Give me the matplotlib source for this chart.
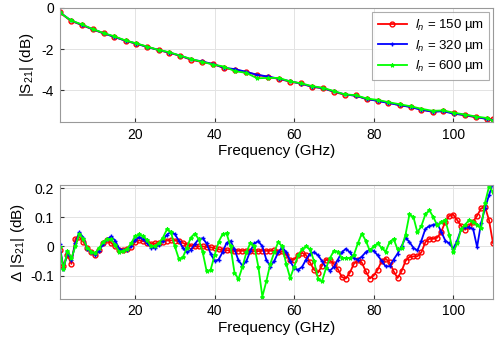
import matplotlib
matplotlib.use("Agg")
import matplotlib.pyplot as plt
from matplotlib.ticker import FuncFormatter

plt.rcParams['font.family'] = ['Liberation Sans', 'DejaVu Sans']
plt.rcParams['mathtext.fontset'] = 'custom'
plt.rcParams['mathtext.rm'] = 'Liberation Sans'
plt.rcParams['mathtext.it'] = 'Liberation Sans:italic'

# ---------------- data ----------------
freq_top = [1, 3.8, 6.6, 9.3, 12.1, 14.8, 17.6, 20.3, 23.1, 25.9, 28.6, 31.4, 34.1, 36.9,
            39.6, 42.4, 45.2, 47.9, 50.7, 53.4, 56.2, 58.9, 61.7, 64.5, 67.2, 70.0, 72.7,
            75.5, 78.2, 81.0, 83.7, 86.5, 89.3, 92.0, 94.8, 97.5, 100.3, 103.0, 105.8, 108.5, 110]
s21_150 = [-0.21, -0.62, -0.83, -1.04, -1.24, -1.40, -1.60, -1.74, -1.89, -2.05, -2.18, -2.33,
           -2.52, -2.63, -2.72, -2.93, -3.00, -3.12, -3.25, -3.35, -3.45, -3.58, -3.67, -3.84,
           -3.90, -4.08, -4.22, -4.25, -4.44, -4.50, -4.60, -4.73, -4.80, -4.94, -5.05, -5.00,
           -5.13, -5.22, -5.32, -5.38, -5.42]
s21_320 = [-0.20, -0.60, -0.82, -1.03, -1.23, -1.41, -1.59, -1.73, -1.90, -2.04, -2.17, -2.32,
           -2.50, -2.60, -2.73, -2.90, -2.98, -3.10, -3.25, -3.33, -3.44, -3.56, -3.68, -3.82,
           -3.90, -4.06, -4.20, -4.27, -4.42, -4.52, -4.62, -4.72, -4.82, -4.95, -5.04, -5.02,
           -5.15, -5.20, -5.30, -5.40, -5.45]
s21_600 = [-0.20, -0.60, -0.80, -1.02, -1.22, -1.38, -1.58, -1.72, -1.88, -2.04, -2.15, -2.32,
           -2.48, -2.62, -2.75, -2.85, -3.08, -3.15, -3.42, -3.40, -3.40, -3.57, -3.66, -3.80,
           -3.88, -4.04, -4.20, -4.24, -4.40, -4.47, -4.58, -4.68, -4.78, -4.90, -5.00, -4.98,
           -5.10, -5.18, -5.28, -5.35, -5.48]

freq_d = list(range(1, 111))
d_150 = [-0.011, -0.066, -0.03, -0.06, 0.026, 0.032, 0.015, -0.005, -0.018, -0.028,
         -0.012, 0.01, 0.021, 0.012, 0.0, -0.012, -0.013, -0.01, -0.002, 0.015,
         0.021, 0.018, 0.013, 0.009, 0.01, 0.013, 0.016, 0.02, 0.021, 0.02,
         0.018, 0.012, 0.006, 0.002, 0.0, 0.0, 0.0, -0.002, -0.003, -0.006,
         -0.01, -0.012, -0.013, -0.014, -0.015, -0.015, -0.015, -0.016, -0.016, -0.016,
         -0.016, -0.015, -0.015, -0.015, -0.014, -0.02, -0.016, -0.03, -0.046, -0.045,
         -0.03, -0.022, -0.03, -0.055, -0.08, -0.09, -0.066, -0.046, -0.048, -0.06,
         -0.078, -0.105, -0.11, -0.09, -0.06, -0.048, -0.055, -0.085, -0.11, -0.1,
         -0.08, -0.05, -0.042, -0.055, -0.085, -0.108, -0.085, -0.05, -0.036, -0.034,
         -0.034, -0.02, 0.015, 0.026, 0.026, 0.03, 0.05, 0.085, 0.105, 0.109,
         0.09, 0.07, 0.057, 0.07, 0.085, 0.105, 0.13, 0.135, 0.09, 0.011]
d_320 = [0.009, -0.077, -0.02, -0.048, 0.01, 0.048, 0.03, -0.008, -0.02, -0.028,
         -0.015, 0.008, 0.025, 0.034, 0.02, -0.008, -0.014, -0.012, 0.0, 0.022,
         0.032, 0.026, 0.012, -0.004, -0.006, 0.005, 0.02, 0.04, 0.05, 0.042,
         0.02, -0.005, -0.02, -0.012, 0.008, 0.025, 0.028, 0.01, -0.025, -0.05,
         -0.045, -0.02, 0.012, 0.018, -0.01, -0.048, -0.066, -0.05, -0.015, 0.01,
         0.018, 0.0, -0.045, -0.069, -0.05, -0.02, -0.003, -0.02, -0.05, -0.075,
         -0.08, -0.07, -0.045, -0.025, -0.02, -0.03, -0.05, -0.072, -0.083, -0.07,
         -0.045, -0.02, -0.008, -0.02, -0.04, -0.045, -0.035, -0.02, -0.011, -0.015,
         -0.03, -0.05, -0.068, -0.068, -0.045, -0.025, 0.0, 0.03, 0.015, -0.005,
         -0.014, 0.02, 0.06, 0.07, 0.074, 0.078, 0.05, 0.02, 0.01, -0.008,
         0.02, 0.06, 0.065, 0.065, 0.06, -0.002, 0.08, 0.13, 0.176, 0.216]
d_600 = [-0.002, -0.078, -0.015, -0.04, 0.0, 0.044, 0.025, -0.005, -0.018, -0.023,
         -0.005, 0.016, 0.024, 0.024, 0.005, -0.018, -0.016, -0.008, 0.01, 0.035,
         0.041, 0.036, 0.022, 0.0, 0.002, 0.012, 0.03, 0.058, 0.05, 0.0,
         -0.042, -0.038, -0.005, 0.03, 0.044, 0.025, -0.02, -0.085, -0.08, -0.03,
         0.015, 0.042, 0.045, 0.0, -0.09, -0.112, -0.07, -0.02, 0.012, 0.0,
         -0.07, -0.172, -0.12, -0.06, -0.02, 0.015, 0.0, -0.06, -0.108, -0.07,
         -0.03, -0.01, 0.0, -0.01, -0.05, -0.11, -0.12, -0.075, -0.04, -0.015,
         -0.018, -0.04, -0.04, -0.04, -0.03, 0.01, 0.044, 0.02, -0.014, 0.0,
         0.01, -0.005, -0.018, 0.015, 0.026, -0.01, -0.005, 0.04, 0.11, 0.1,
         0.048, 0.07, 0.11, 0.124, 0.1, 0.072, 0.085, 0.09, 0.04, -0.02,
         0.01, 0.06, 0.075, 0.09, 0.085, 0.075, 0.062, 0.15, 0.205, 0.187]

labels = [r'$\mathit{l}_{\mathit{n}}$ = 150 µm',
          r'$\mathit{l}_{\mathit{n}}$ = 320 µm',
          r'$\mathit{l}_{\mathit{n}}$ = 600 µm']
colors = ['#ff0000', '#0000ff', '#00ff00']
x_ticks = [20, 40, 60, 80, 100]

# ---------------- figure ----------------
fig = plt.figure(figsize=(5.0, 3.46), dpi=100)
ax1 = fig.add_axes([0.119, 0.647, 0.867, 0.330])
ax2 = fig.add_axes([0.119, 0.136, 0.867, 0.329])

styles = [dict(marker='o', ms=3.5, mew=1.0, mfc='none'),
          dict(marker='+', ms=3.5, mew=1.0),
          dict(marker='*', ms=3.0, mew=0.8)]

for ys, c, st, lab in zip([s21_150, s21_320, s21_600], colors, styles, labels):
    ax1.plot(freq_top, ys, color=c, lw=1.3, label=lab, **st)

for ys, c, st in zip([d_150, d_320, d_600], colors, styles):
    ax2.plot(freq_d, ys, color=c, lw=1.3, **st)

fmt = FuncFormatter(lambda v, p: ('%g' % round(v, 3)).replace('-', '-'))
for ax in (ax1, ax2):
    ax.set_xlim(1, 110)
    ax.set_xticks(x_ticks)
    ax.grid(True, color='#e3e3e3', lw=0.7)
    ax.set_axisbelow(True)
    ax.tick_params(direction='in', length=3, labelsize=10, color='#333333', pad=4)
    for s in ax.spines.values():
        s.set_color('#999999')
        s.set_linewidth(0.8)
    ax.set_xlabel('Frequency (GHz)', fontsize=11, labelpad=2)
    ax.yaxis.set_major_formatter(fmt)

ax1.set_ylim(-5.55, 0)
ax1.set_yticks([-4, -2, 0])
ax1.set_ylabel(r'|S$_{\mathrm{21}}$| (dB)', fontsize=11, labelpad=4)

ax2.set_ylim(-0.18, 0.21)
ax2.set_yticks([-0.1, 0, 0.1, 0.2])
ax2.set_ylabel(r'$\Delta$ |S$_{\mathrm{21}}$| (dB)', fontsize=11, labelpad=2)

leg = ax1.legend(loc='upper right', fontsize=9.5, frameon=True, fancybox=False,
                 edgecolor='#999999', handlelength=2.2, borderaxespad=0.3,
                 labelspacing=0.35, handletextpad=0.6)
leg.get_frame().set_linewidth(0.8)

fig.savefig('out.png', dpi=100)
